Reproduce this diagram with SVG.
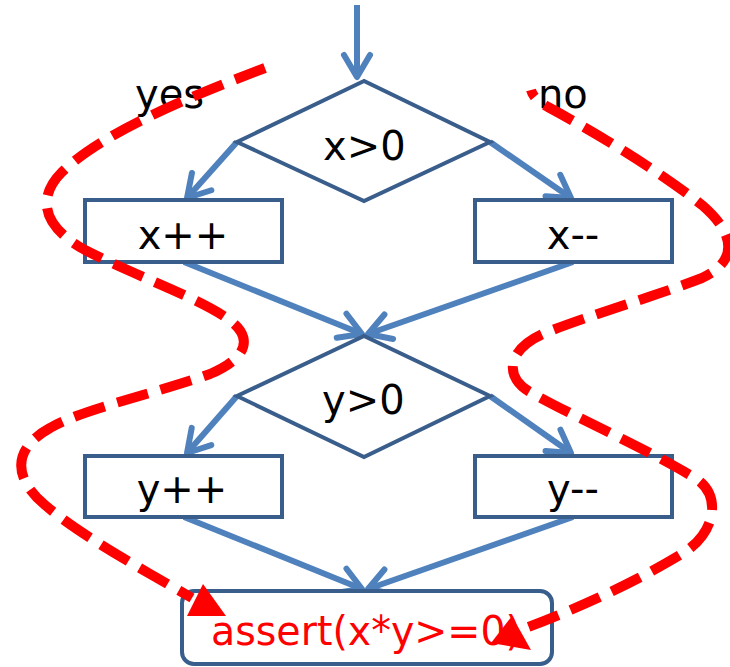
<svg xmlns="http://www.w3.org/2000/svg" width="730" height="667" viewBox="0 0 730 667">
<style>
.node{fill:#fff;stroke:#3A5E8C;stroke-width:4}
.lbl{font-family:"DejaVu Sans",sans-serif;font-size:40px;fill:#000}
.conn{fill:none;stroke:#4F81BD;stroke-width:6;marker-end:url(#ah)}
.red{fill:none;stroke:#FF0000;stroke-width:10;stroke-dasharray:32 13}
</style>
<defs>
<marker id="ah" markerUnits="userSpaceOnUse" viewBox="-30 -20 40 40" markerWidth="40" markerHeight="40" refX="0" refY="0" orient="auto" overflow="visible">
<path d="M-22,-13 L0,0 L-22,13" fill="none" stroke="#4F81BD" stroke-width="6" stroke-linecap="round" stroke-linejoin="round"/>
</marker>
</defs>
<rect width="730" height="667" fill="#fff"/>
<g id="connectors">
<path class="conn" d="M357,5 L357,77"/>
<path class="conn" d="M237,142 L187,198"/>
<path class="conn" d="M490,142 L571,198"/>
<path class="conn" d="M184,262 L362,334"/>
<path class="conn" d="M573,262 L368,334"/>
<path class="conn" d="M237,396 L187,453"/>
<path class="conn" d="M490,396 L571,453"/>
<path class="conn" d="M184,517 L362,589"/>
<path class="conn" d="M573,517 L368,589"/>
</g>
<g id="cond1">
<polygon class="node" points="364,81 237,142 364,201 490,142"/>
<text class="lbl" x="323" y="160">x&gt;0</text>
</g>
<g id="incx">
<rect class="node" x="85" y="200" width="197" height="62"/>
<text class="lbl" x="183" y="249" text-anchor="middle">x++</text>
</g>
<g id="decx">
<rect class="node" x="475" y="200" width="197" height="62"/>
<text class="lbl" x="573" y="249" text-anchor="middle">x--</text>
</g>
<g id="cond2">
<polygon class="node" points="364,336 237,396 364,457 490,396"/>
<text class="lbl" x="322" y="414">y&gt;0</text>
</g>
<g id="incy">
<rect class="node" x="85" y="456" width="197" height="61"/>
<text class="lbl" x="182" y="503" text-anchor="middle">y++</text>
</g>
<g id="decy">
<rect class="node" x="475" y="456" width="197" height="61"/>
<text class="lbl" x="573" y="503" text-anchor="middle">y--</text>
</g>
<g id="assert">
<rect class="node" x="182" y="591" width="370" height="73" rx="12"/>
<text class="lbl" x="211" y="645" style="fill:#FF0000" textLength="310" lengthAdjust="spacingAndGlyphs">assert(x*y&gt;=0)</text>
</g>
<g id="labels">
<text class="lbl" x="135" y="108">yes</text>
<text class="lbl" x="538" y="108">no</text>
</g>
<g id="paths">
<path class="red" d="M265,68 C180,100 100,135 62,172 C38,196 40,225 85,250 C140,278 205,300 232,322 C252,338 248,358 210,374 C150,395 80,410 50,428 C10,450 15,480 45,505 C80,535 140,568 192,598"/>
<polygon points="203,584 187,616 226,616" fill="#FF0000"/>
<path class="red" style="stroke-dashoffset:24" d="M531,90 C533,97 538,101 548,107 C600,135 660,172 702,205 C737,235 737,262 702,278 C650,298 590,315 545,333 C505,350 505,378 530,392 C580,420 650,450 698,480 C722,498 715,535 680,555 C630,585 570,612 512,633"/>
<polygon points="491,643 512,616 531,650" fill="#FF0000"/>
</g>
</svg>
